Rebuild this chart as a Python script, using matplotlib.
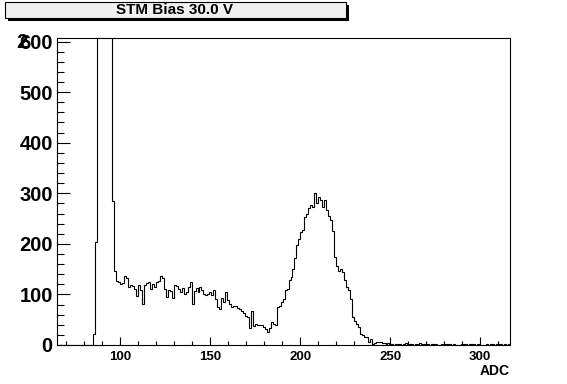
import numpy as np
import matplotlib
matplotlib.use("Agg")
import matplotlib.pyplot as plt
from matplotlib.ticker import MultipleLocator
from matplotlib.patches import Rectangle

# histogram: 229 bins of 1.1 ADC starting at 64.8
x_start = 64.8
bin_w = 1.1

counts_empty = [0] * 18
counts_peak = [21, 204, 1900, 4200, 5200, 4800, 3600, 2300, 1300, 760, 285, 146]
counts_plateau = [127, 124, 120, 122, 136, 132, 114, 118, 116, 110,
                  96, 118, 108, 82, 118, 122, 124, 110, 120, 114,
                  124, 127, 136, 132, 110, 95, 108, 106, 92, 118,
                  116, 110, 105, 112, 101, 105, 115, 124, 82, 106,
                  112, 105, 114, 108, 101, 98, 100, 104, 98, 108,
                  90, 76, 71, 92, 86, 105, 88, 81, 75, 78,
                  77, 74, 71, 68, 64, 58, 55, 33, 67, 38,
                  42, 40, 39, 40, 36, 32, 25, 33]
counts_signal = [45, 42, 40, 75, 78, 85, 90, 108, 111, 128,
                 135, 151, 172, 197, 210, 224, 227, 254, 260, 270,
                 277, 273, 300, 280, 293, 287, 273, 287, 267, 256,
                 247, 225, 174, 157, 147, 151, 145, 128, 114, 108,
                 90, 55, 48, 42, 35, 22, 20, 16, 15, 5,
                 11, 2, 4, 6, 6, 5, 4, 3, 2, 3]
counts_tail = [2, 1, 0, 2, 1, 1, 0, 2, 3, 1, 2, 1, 0, 1, 2, 3, 1, 2, 2, 1,
               0, 1, 2, 1, 0, 0, 1, 2, 1, 1, 2, 0, 1, 0, 0, 0, 1, 2, 1, 0,
               1, 1, 2, 0, 1, 0, 0, 0, 0, 1, 0, 2, 1, 0, 1, 2, 1, 0, 1, 0, 1]

counts = np.array(counts_empty + counts_peak + counts_plateau + counts_signal + counts_tail)
edges = x_start + bin_w * np.arange(len(counts) + 1)

title = "STM Bias 30.0 V"
x_label = "ADC"

W, H = 567, 384
fig = plt.figure(figsize=(W / 100, H / 100), dpi=100)
fig.patch.set_facecolor("white")

ax = fig.add_axes([57 / W, 1 - 345 / H, 453 / W, 307 / H])
ax.stairs(counts, edges, color="black", lw=0.8)

ax.set_xlim(64.8, 316.6)
ax.set_ylim(0, 607)

ax.xaxis.set_major_locator(MultipleLocator(50))
ax.xaxis.set_minor_locator(MultipleLocator(10))
ax.yaxis.set_major_locator(MultipleLocator(100))
ax.yaxis.set_minor_locator(MultipleLocator(20))

ax.tick_params(axis="both", which="both", direction="in", top=False, right=False,
               color="black", width=0.8)
ax.tick_params(axis="y", which="major", length=9.4, pad=3)
ax.tick_params(axis="y", which="minor", length=4.7)
ax.tick_params(axis="x", which="major", length=6.1, pad=4)
ax.tick_params(axis="x", which="minor", length=3.2)

for lab in ax.get_yticklabels():
    lab.set_fontfamily("Liberation Sans")
    lab.set_fontweight("bold")
    lab.set_fontsize(14.5)
for lab in ax.get_xticklabels():
    lab.set_fontfamily("Liberation Sans")
    lab.set_fontweight("bold")
    lab.set_fontsize(9.5)

for sp in ax.spines.values():
    sp.set_color("black")
    sp.set_linewidth(0.8)

# overlapping glyph behind the top label, as in the original
fig.text(16 / W, 1 - 42 / H, "2", ha="left", va="center",
         fontfamily="Liberation Sans", fontweight="bold", fontsize=14.5, zorder=0)

fig.text(510 / W, 1 - 371 / H, x_label, ha="right", va="center",
         fontfamily="Liberation Sans", fontweight="bold", fontsize=10)

# title box with shadow
fig.patches.append(Rectangle((8 / W, 1 - 21 / H), 340.5 / W, 16 / H,
                             transform=fig.transFigure, facecolor="black",
                             edgecolor="none", zorder=1))
fig.patches.append(Rectangle((5 / W, 1 - 18 / H), 340.5 / W, 16 / H,
                             transform=fig.transFigure, facecolor="#f0f0f0",
                             edgecolor="black", lw=0.8, zorder=2))
fig.text(175 / W, 1 - 10 / H, title, ha="center", va="center",
         fontfamily="Liberation Sans", fontweight="bold", fontsize=11, zorder=3)

fig.savefig("out.png", dpi=100)
